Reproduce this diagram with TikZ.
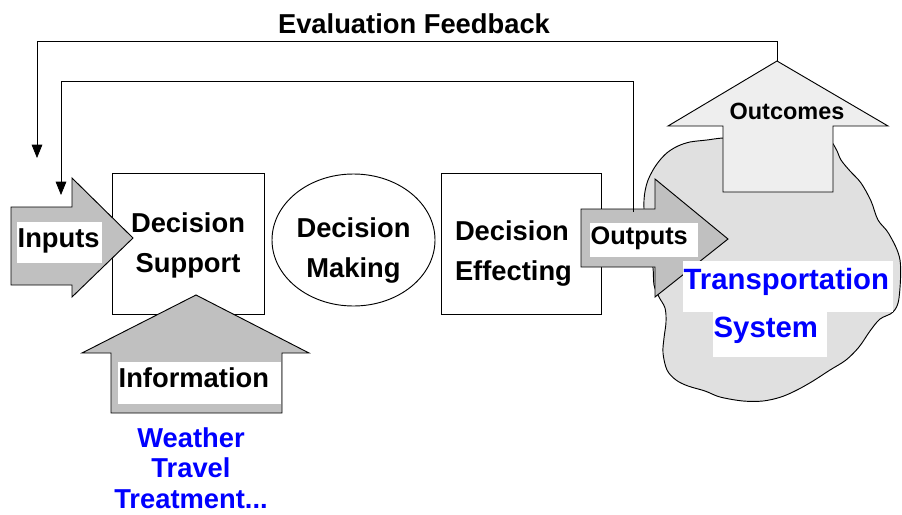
\documentclass[tikz,border=0pt]{standalone}
\usepackage{fontspec}
\setmainfont{Liberation Sans}
\usetikzlibrary{arrows.meta,shapes.geometric}

\definecolor{arrowgray}{RGB}{192,192,192}
\definecolor{cloudgray}{RGB}{224,224,224}
\definecolor{outcomegray}{RGB}{238,238,238}
\definecolor{sysblue}{RGB}{0,0,255}

\newcommand\stagefont{\bfseries\fontsize{20.5pt}{30pt}\selectfont}
\newcommand\outfont{\bfseries\fontsize{19pt}{23pt}\selectfont}
\newcommand\outcomefont{\bfseries\fontsize{17.6pt}{21pt}\selectfont}
\newcommand\sysfont{\bfseries\fontsize{22pt}{26pt}\selectfont}
\newcommand\srcfont{\bfseries\fontsize{20.5pt}{22.9pt}\selectfont}

\begin{document}
\begin{tikzpicture}[x=0.75pt, y=-0.75pt,
	blockarrow/.style={draw=black, line width=0.7pt, fill=arrowgray},
	stagebox/.style={draw=black, line width=0.7pt, minimum width=114pt, minimum height=105.75pt, inner ysep=0pt, inner xsep=7pt, text width=100pt, align=center, font=\stagefont, text height=15.4pt},
	lbl/.style={fill=white, inner xsep=0.5pt, inner ysep=0pt, align=left, text height=0.72em, text depth=0pt, font=\stagefont},
	fb/.style={line width=0.6pt, -{Triangle[length=10pt, width=8pt]}}]
	\useasboundingbox (0,0) rectangle (902,514);
	
	% the transportation system
	\draw[line width=0.7pt, fill=cloudgray] plot[smooth cycle, tension=0.55] coordinates {(723,138) (707,140) (690,142) (678,146) (668,152) (660,160) (653,170) (647,183) (644,200) (645,225) (649,250) (653,268) (654,285) (659,297) (665,308) (666,322) (664,338) (663,353) (667,370) (676,380) (688,386) (705,391) (720,397) (743,401) (763,401) (781,397) (797,390) (813,381) (830,370) (846,360) (859,347) (870,331) (880,319) (893,312) (899,298) (900,260) (889,234) (878,220) (871,201) (861,183) (850,171) (841,160) (836,149) (828,140) (800,136) (760,136)};
	
	\draw node[stagebox, text depth=32.6pt] at (188,243.5) (support) {Decision\\Support};
	\draw node[stagebox, ellipse, minimum width=122.25pt, minimum height=99pt, inner xsep=0pt, text width=86pt, text depth=19.9pt] at (353.5,240) (making) {Decision\\Making};
	\draw node[stagebox, minimum width=120pt, text width=99pt, inner xsep=10.5pt, align=left, text depth=20.6pt] at (521,243.5) (effecting) {Decision\\Effecting};
	
	% block arrows
	\draw[blockarrow] (11,207) -- (72,207) -- (72,178) -- (133,238) -- (72,297) -- (72,285) -- (11,285) -- cycle;
	\draw[blockarrow] (111,413) -- (111,353) -- (82,353) -- (196,295) -- (309,353) -- (282,353) -- (282,413) -- cycle;
	\draw[blockarrow] (581,267) -- (581,209) -- (633,209) coordinate (outfb) -- (655,209) -- (655,179) -- (728,239) -- (655,297) -- (655,267) -- cycle;
	\draw[blockarrow, fill=outcomegray] (723,192) -- (723,126) -- (668,126) -- (777,61) coordinate (outcometip) -- (888,126) -- (833,126) -- (833,192) -- cycle;
	
	\draw node[lbl, text width=62.75pt, minimum height=30.75pt] at (59.5,242.5) (inputs) {Inputs};
	\draw node[lbl, text width=121.25pt, minimum height=31.5pt] at (199.5,383) (info) {Information};
	\draw node[lbl, font=\outfont, text width=80pt, minimum height=25.5pt] at (644,240) (outputs) {Outputs};
	\draw node[lbl, font=\sysfont, text=sysblue, text width=156.5pt, minimum height=38.25pt, text depth=0.2em] at (788,286.5) (transport) {Transportation};
	\draw node[lbl, font=\sysfont, text=sysblue, text width=84.5pt, minimum height=33.75pt, text depth=0.2em] at (770,334.5) (system) {System};
	\draw node[font=\outcomefont, anchor=base] at (787,119) (outcomes) {Outcomes};
	\draw node[font=\srcfont, text=sysblue, align=center, anchor=north, inner sep=0pt] at (191,427) (sources) {Weather\\Travel\\Treatment...};
	\draw node[font=\stagefont, anchor=base] at (414,33) (title) {Evaluation Feedback};
	
	% feedback loops
	\coordinate (fbouter) at (37,158);
	\coordinate (fbinner) at (61,195);
	\draw[fb] (outcometip) -- ++(0,-20) -| (fbouter);
	\draw[fb] (outfb) ++(0,3) -- ++(0,-131) -| (fbinner);
\end{tikzpicture}
\end{document}
